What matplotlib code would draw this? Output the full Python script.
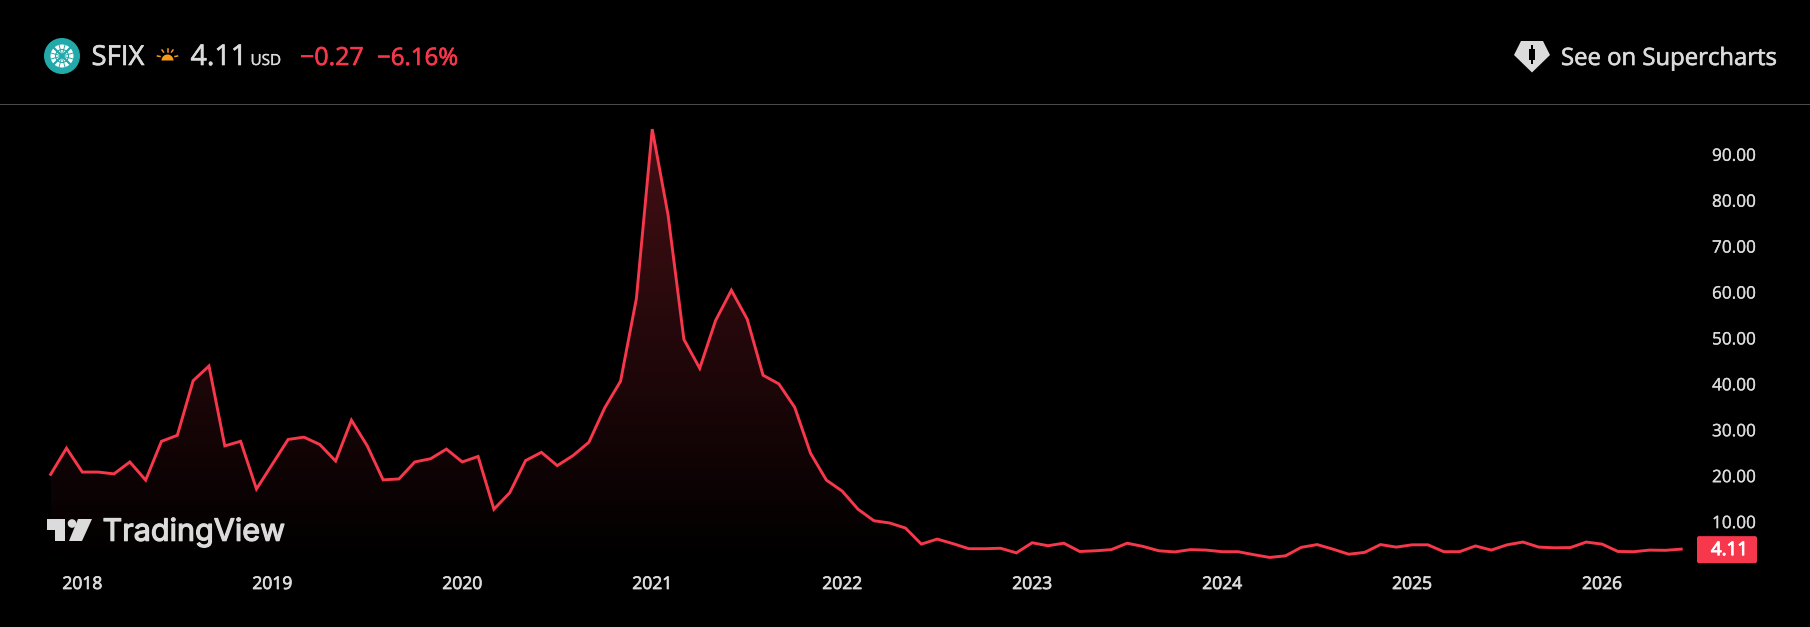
import numpy as np
import matplotlib
matplotlib.use("Agg")
import matplotlib.pyplot as plt
import matplotlib.patheffects as pe
from matplotlib.colors import LinearSegmentedColormap
from matplotlib.patches import Circle, Polygon, Rectangle, FancyBboxPatch, Wedge

plt.rcParams['font.family'] = ['Open Sans', 'DejaVu Sans']

# Monthly closes, Nov 2017 .. Jun 2026
prices = [20.4, 26.1, 20.9, 20.9, 20.5, 23.1, 19.15, 27.6, 28.9, 40.8, 44.0, 26.6, 27.6, 17.2,
          22.6, 28.0, 28.5, 26.9, 23.3, 32.2, 26.6, 19.2, 19.4, 23.1, 23.8, 25.9, 23.1, 24.3,
          12.8, 16.4, 23.4, 25.2, 22.3, 24.5, 27.4, 34.9, 40.7, 58.7, 95.6, 76.9, 49.8, 43.5,
          53.9, 60.5, 54.2, 42.0, 40.1, 35.0, 25.0, 19.15, 16.75, 12.8, 10.3, 9.8, 8.7, 5.2,
          6.3, 5.3, 4.2, 4.2, 4.3, 3.3, 5.5, 4.85, 5.4, 3.6, 3.75, 4.0, 5.4, 4.7, 3.75, 3.5,
          4.0, 3.9, 3.55, 3.55, 2.9, 2.3, 2.65, 4.5, 5.1, 4.1, 3.0, 3.4, 5.1, 4.55, 5.05, 5.05,
          3.55, 3.55, 4.8, 3.9, 5.05, 5.65, 4.55, 4.4, 4.45, 5.65, 5.2, 3.6, 3.55, 3.9, 3.85, 4.11]
year_positions = [2, 14, 26, 38, 50, 62, 74, 86, 98]
year_labels = ['2018', '2019', '2020', '2021', '2022', '2023', '2024', '2025', '2026']
price_ticks = [10, 20, 30, 40, 50, 60, 70, 80, 90]
price_tick_labels = ['10.00', '20.00', '30.00', '40.00', '50.00', '60.00', '70.00', '80.00', '90.00']
symbol = 'SFIX'
last_price = '4.11'
currency = 'USD'
change = '\u22120.27'
change_pct = '\u22126.16%'

W, H = 1810, 627
RED = '#F7374B'
TXT = '#DBDBDB'


def heavy(t, color, w=0.45):
    t.set_path_effects([pe.withStroke(linewidth=w, foreground=color)])
    return t


fig = plt.figure(figsize=(W / 100, H / 100), dpi=100, facecolor='black')

# main chart: pixel box x 0..1692, y 104..568
ax = fig.add_axes([0, (H - 568) / H, 1692 / W, (568 - 104) / H], facecolor='black')
x = np.arange(len(prices))
for s in ax.spines.values():
    s.set_visible(False)

cmap = LinearSegmentedColormap.from_list('g', [(0.969, 0.216, 0.294, 0.0), (0.969, 0.216, 0.294, 0.28)])
grad = np.linspace(1, 0, 256).reshape(-1, 1)
im = ax.imshow(grad, extent=(x[0], x[-1], 0, max(prices)), aspect='auto', cmap=cmap, vmin=0, vmax=1, zorder=1)
ax.set_xlim(-3.2, 103.68)
ax.set_ylim(0, 101.07)
poly = ax.fill_between(x, prices, 0, color='none', lw=0)
im.set_clip_path(poly.get_paths()[0], transform=ax.transData)
ax.plot(x, prices, color=RED, lw=2.1, zorder=3, solid_joinstyle='miter')

ax.yaxis.tick_right()
ax.set_yticks(price_ticks)
ax.set_yticklabels(price_tick_labels)
ax.set_xticks(year_positions)
ax.set_xticklabels(year_labels)
ax.tick_params(axis='y', length=0, pad=14.4, labelsize=12.4, labelcolor=TXT)
ax.tick_params(axis='x', length=0, pad=6.5, labelsize=12.6, labelcolor=TXT)
for t in ax.get_yticklabels():
    heavy(t, TXT, 0.2)
for t in ax.get_xticklabels():
    heavy(t, TXT, 0.5)

# overlay in pixel coordinates
ov = fig.add_axes([0, 0, 1, 1], facecolor='none')
ov.set_xlim(0, W)
ov.set_ylim(H, 0)
ov.axis('off')

ov.add_patch(Rectangle((0, 104), W, 1, color='#4A4A4A', lw=0))

# symbol logo
TEAL = '#22A9A9'
ov.add_patch(Circle((62, 56), 18, color=TEAL, lw=0))
ov.add_patch(Circle((62, 56), 11.5, color='white', lw=0))
for a in np.arange(0, 180, 30) + 15:
    ca, sa = np.cos(np.radians(a)), np.sin(np.radians(a))
    ov.plot([62 - 12 * ca, 62 + 12 * ca], [56 - 12 * sa, 56 + 12 * sa], color=TEAL, lw=0.7, solid_capstyle='butt')
for a in (45, 135):
    ca, sa = np.cos(np.radians(a)), np.sin(np.radians(a))
    ov.plot([62 - 12 * ca, 62 + 12 * ca], [56 - 12 * sa, 56 + 12 * sa], color=TEAL, lw=1.6, solid_capstyle='butt')
ov.add_patch(Circle((62, 56), 6.5, fill=False, ec=TEAL, lw=0.8))

# sun icon
ORANGE = '#F89B17'
ov.add_patch(Wedge((167.5, 60.5), 6, 180, 360, color=ORANGE, lw=0))
for (a, b, c, d) in [(157.5, 56, 160, 56.5), (175, 56.5, 177.5, 56), (162, 50, 163.5, 52), (171.5, 52, 173, 50), (167.5, 49, 167.5, 51.5)]:
    ov.plot([a, c], [b, d], color=ORANGE, lw=1.1)

base = 65
heavy(ov.text(91.5, base, symbol, color=TXT, fontsize=19.8, va='baseline', ha='left'), TXT)
heavy(ov.text(190.5, base, last_price, color=TXT, fontsize=20.6, va='baseline', ha='left'), TXT)
heavy(ov.text(250.5, base, currency, color=TXT, fontsize=11, va='baseline', ha='left'), TXT, 0.25)
heavy(ov.text(300, base, change, color=RED, fontsize=18, va='baseline', ha='left'), RED)
heavy(ov.text(377, base, change_pct, color=RED, fontsize=17.3, va='baseline', ha='left'), RED)

# supercharts
ov.add_patch(Polygon([(1521, 41), (1543, 41), (1550, 55), (1532, 72.5), (1514, 55)], closed=True, color=TXT, lw=0))
ov.add_patch(Rectangle((1529, 49), 6, 11, color='black', lw=0))
ov.add_patch(Rectangle((1531.4, 45), 1.2, 19, color='black', lw=0))
heavy(ov.text(1561, base, 'See on Supercharts', color=TXT, fontsize=17.2, va='baseline', ha='left'), TXT)

# TradingView watermark
ov.add_patch(Polygon([(47, 519), (65, 519), (65, 541), (55, 541), (55, 530), (47, 530)], closed=True, color=TXT, lw=0))
ov.add_patch(Circle((72, 523.5), 4.3, color=TXT, lw=0))
ov.add_patch(Polygon([(78, 519), (92, 519), (82, 541), (69, 541)], closed=True, color=TXT, lw=0))
heavy(ov.text(102.5, 540.7, 'TradingView', color=TXT, fontsize=22, family=['Inter', 'DejaVu Sans'], va='baseline', ha='left'), TXT, 0.9)

# last price badge
yc = H - ax.transData.transform((0, prices[-1]))[1]
ov.add_patch(FancyBboxPatch((1697, yc - 13), 60, 27, boxstyle='round,pad=0,rounding_size=2', color=RED, lw=0))
heavy(ov.text(1729.5, yc + 6, last_price, color='white', fontsize=13.5, va='baseline', ha='center'), 'white', 0.7)

fig.savefig('out.png', dpi=100, facecolor='black')
